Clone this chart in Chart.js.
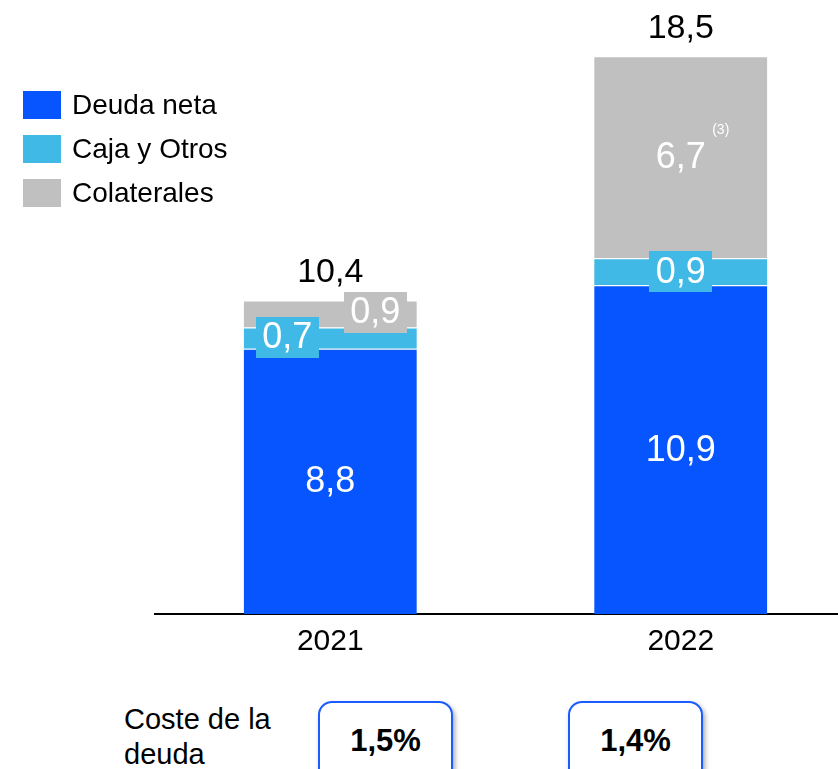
<!DOCTYPE html>
<html lang="es">
<head>
  <meta charset="UTF-8" />
  <title>Deuda neta 2021-2022</title>
  <script src="https://cdn.jsdelivr.net/npm/chart.js"></script>
  <style>
    html, body {
      margin: 0;
      padding: 0;
      width: 838px;
      height: 769px;
      overflow: hidden;
      background: #fff;
      font-family: "Liberation Sans", Arial, sans-serif;
      color: #000;
    }
    .chart-wrap {
      position: absolute;
      left: 0;
      top: 0;
      width: 860px;
      height: 673px;
    }
    .legend {
      position: absolute;
      left: 23px;
      top: 91px;
    }
    .legend-item {
      position: relative;
      height: 44px;
    }
    .legend-item .sw {
      position: absolute;
      left: 0;
      top: 0;
      width: 38px;
      height: 28px;
    }
    .legend-item span {
      position: absolute;
      left: 49px;
      top: -2px;
      font-size: 28px;
      line-height: 32px;
      white-space: nowrap;
    }
    .coste-label {
      position: absolute;
      left: 124px;
      top: 702px;
      font-size: 29px;
      line-height: 35px;
    }
    .coste-box {
      position: absolute;
      top: 701px;
      width: 131px;
      height: 90px;
      border: 2px solid #1a5cff;
      border-radius: 14px;
      box-shadow: 2px 3px 5px rgba(0,0,0,0.35);
      background: #fff;
      font-weight: bold;
      font-size: 31px;
      text-align: center;
      line-height: 76px;
    }
  </style>
</head>
<body>

  <div class="chart-wrap">
    <canvas id="deudaChart"></canvas>
  </div>

  <!-- leyenda -->
  <div class="legend" id="legend"></div>

  <!-- coste de la deuda -->
  <div class="coste-label">Coste de la<br>deuda</div>
  <div id="costeBoxes"></div>

  <script>
    // datos
    const years = ['2021', '2022'];
    const deudaNeta = [8.8, 10.9];
    const cajaOtros = [0.7, 0.9];
    const colaterales = [0.9, 6.7];
    const totales = [10.4, 18.5];
    const costeDeuda = ['1,5%', '1,4%'];

    const seriesNames = ['Deuda neta', 'Caja y Otros', 'Colaterales'];
    const seriesColors = ['#0655ff', '#41b9e6', '#c0c0c0'];

    const fmt = v => v.toFixed(1).replace('.', ',');
    const FONT = '"Liberation Sans", Arial, sans-serif';

    // leyenda html
    const legend = document.getElementById('legend');
    seriesNames.forEach((name, i) => {
      const item = document.createElement('div');
      item.className = 'legend-item';
      item.innerHTML = `<div class="sw" style="background:${seriesColors[i]}"></div><span>${name}</span>`;
      legend.appendChild(item);
    });

    // cajas de coste
    const boxLefts = [318, 568];
    const costeBoxes = document.getElementById('costeBoxes');
    costeDeuda.forEach((txt, i) => {
      const box = document.createElement('div');
      box.className = 'coste-box';
      box.style.left = boxLefts[i] + 'px';
      box.textContent = txt;
      costeBoxes.appendChild(box);
    });

    // etiquetas dentro de las barras + totales
    const labelPlugin = {
      id: 'segLabels',
      afterDatasetsDraw(chart) {
        const ctx = chart.ctx;
        ctx.save();
        ctx.textAlign = 'center';
        ctx.textBaseline = 'middle';

        chart.data.datasets.forEach((ds, di) => {
          const meta = chart.getDatasetMeta(di);
          meta.data.forEach((bar, i) => {
            const v = ds.data[i];
            const text = fmt(v);
            let x = bar.x;
            let y = (bar.y + bar.base) / 2;
            let boxed = false;

            // segmentos pequeños: etiqueta con fondo
            if (di === 1) {
              boxed = true;
              if (i === 0) { x -= 43; y -= 1; }
            }
            if (di === 2 && i === 0) {
              boxed = true;
              x += 45;
              y -= 2;
            }

            ctx.font = '36px ' + FONT;
            if (boxed) {
              const w = 63, h = 41;
              ctx.fillStyle = ds.backgroundColor;
              ctx.fillRect(Math.round(x - w / 2), Math.round(y - h / 2), w, h);
            }
            ctx.fillStyle = '#fff';
            ctx.fillText(text, x, y + 1);

            // nota (3)
            if (di === 2 && i === 1) {
              ctx.font = '14px ' + FONT;
              ctx.fillText('(3)', x + 40, y - 27);
            }
          });
        });

        // totales encima
        const topMeta = chart.getDatasetMeta(chart.data.datasets.length - 1);
        topMeta.data.forEach((bar, i) => {
          ctx.font = '34px ' + FONT;
          ctx.fillStyle = '#000';
          ctx.fillText(fmt(totales[i]), bar.x, bar.y - 28);
        });
        ctx.restore();
      }
    };

    new Chart(document.getElementById('deudaChart'), {
      type: 'bar',
      data: {
        labels: years,
        datasets: [
          { label: seriesNames[0], data: deudaNeta, backgroundColor: seriesColors[0] },
          { label: seriesNames[1], data: cajaOtros, backgroundColor: seriesColors[1] },
          { label: seriesNames[2], data: colaterales, backgroundColor: seriesColors[2] }
        ].map(d => ({
          ...d,
          borderColor: '#ffffff',
          borderWidth: { top: 1, left: 0, right: 0, bottom: 0 },
          borderSkipped: false,
          categoryPercentage: 1,
          barPercentage: 0.494
        }))
      },
      options: {
        responsive: true,
        maintainAspectRatio: false,
        animation: false,
        layout: {
          padding: { left: 155, right: 4, top: 11, bottom: 3 }
        },
        plugins: {
          legend: { display: false },
          tooltip: { enabled: false }
        },
        scales: {
          x: {
            stacked: true,
            grid: { display: false, drawTicks: false },
            border: { display: true, color: '#000', width: 2 },
            ticks: {
              color: '#000',
              padding: 10,
              font: { family: FONT, size: 30 }
            }
          },
          y: {
            stacked: true,
            display: false,
            min: 0,
            max: 20
          }
        }
      },
      plugins: [labelPlugin]
    });
  </script>
</body>
</html>
